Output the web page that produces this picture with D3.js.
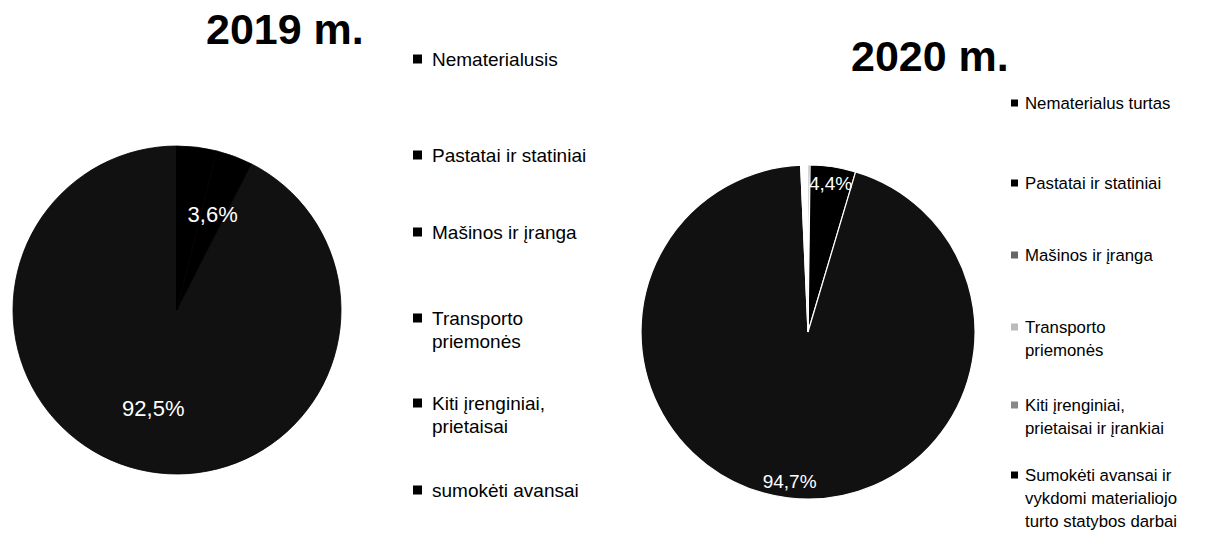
<!DOCTYPE html>
<html><head><meta charset="utf-8">
<script src="https://cdn.jsdelivr.net/npm/d3@7/dist/d3.min.js"></script>
<style>body{margin:0;background:#fff}svg{display:block}</style>
</head><body>
<script>
// ---- data ----
const categories2019 = ["Nematerialusis", "Pastatai ir statiniai", "Mašinos ir įranga", "Transporto priemonės", "Kiti įrenginiai, prietaisai", "sumokėti avansai"];
const legendLines2019 = [["Nematerialusis"], ["Pastatai ir statiniai"], ["Mašinos ir įranga"], ["Transporto", "priemonės"], ["Kiti įrenginiai,", "prietaisai"], ["sumokėti avansai"]];
const values2019 = [3.9, 3.6, 92.5, 0, 0, 0];
const labels2019 = ["", "3,6%", "92,5%", "", "", ""];
const colors2019 = ["#000", "#000", "#111", "#111", "#000", "#000"];

const categories2020 = ["Nematerialus turtas", "Pastatai ir statiniai", "Mašinos ir įranga", "Transporto priemonės", "Kiti įrenginiai, prietaisai ir įrankiai", "Sumokėti avansai ir vykdomi materialiojo turto statybos darbai"];
const legendLines2020 = [["Nematerialus turtas"], ["Pastatai ir statiniai"], ["Mašinos ir įranga"], ["Transporto", "priemonės"], ["Kiti įrenginiai,", "prietaisai ir įrankiai"], ["Sumokėti avansai ir", "vykdomi materialiojo", "turto statybos darbai"]];
const values2020 = [0.2, 4.4, 94.7, 0.6, 0, 0.1];
const labels2020 = ["", "4,4%", "94,7%", "", "", ""];
const colors2020 = ["#000", "#000", "#111", "#fff", "#888", "#000"];
const legendMarker2020 = ["#000", "#000", "#666", "#bbb", "#888", "#000"];

const titles = ["2019 m.", "2020 m."];

// ---- drawing ----
const svg = d3.select("body").append("svg").attr("width", 1229).attr("height", 533);
const font = "'Liberation Sans', Arial, sans-serif";

function drawPie(cfg) {
  const g = svg.append("g").attr("transform", `translate(${cfg.cx},${cfg.cy})`);
  const pie = d3.pie().sort(null).value(d => d)(cfg.values);
  const arc = d3.arc().innerRadius(0).outerRadius(cfg.r);
  g.selectAll("path").data(pie).join("path")
    .attr("d", arc)
    .attr("fill", (d, i) => cfg.colors[i])
    .attr("stroke", cfg.strokeColor).attr("stroke-width", cfg.stroke);
  const labelArc = d3.arc().innerRadius(cfg.r * cfg.lr).outerRadius(cfg.r * cfg.lr);
  g.selectAll("text").data(pie).join("text")
    .attr("transform", d => `translate(${labelArc.centroid(d)})`)
    .attr("text-anchor", "middle").attr("dominant-baseline", "central")
    .attr("font-family", font).attr("font-size", cfg.lfs)
    .attr("fill", "#fff")
    .text((d, i) => cfg.labels[i]);
  svg.append("text").attr("x", cfg.tx).attr("y", cfg.ty)
    .attr("font-family", font).attr("font-weight", "bold").attr("font-size", 43)
    .attr("fill", "#000").text(cfg.title);
  // legend
  const lg = svg.append("g");
  cfg.legend.forEach((lines, i) => {
    const y = cfg.ly[i];
    lg.append("rect").attr("x", cfg.mx).attr("y", y - cfg.ms / 2).attr("width", cfg.ms).attr("height", cfg.ms)
      .attr("fill", cfg.marker[i]);
    lines.forEach((t, j) => {
      lg.append("text").attr("x", cfg.lx).attr("y", y + j * cfg.lh)
        .attr("dominant-baseline", "central")
        .attr("font-family", font).attr("font-size", cfg.fs).attr("fill", "#000").text(t);
    });
  });
}

drawPie({cx: 177, cy: 310, r: 164, values: values2019, colors: colors2019, labels: labels2019,
  lr: 0.62, lfs: 22, stroke: 0.8, strokeColor: "#000", title: titles[0], tx: 206, ty: 44,
  legend: legendLines2019, marker: colors2019.map(() => "#000"), ly: [59, 155, 232, 318, 403, 490],
  mx: 413, ms: 9, lx: 432, fs: 19, lh: 23});

drawPie({cx: 808, cy: 332, r: 167, values: values2020, colors: colors2020, labels: labels2020,
  lr: 0.9, lfs: 19, stroke: 1.2, strokeColor: "#fff", title: titles[1], tx: 851, ty: 71,
  legend: legendLines2020, marker: legendMarker2020, ly: [103, 183, 255, 327, 405, 475],
  mx: 1011, ms: 7, lx: 1025, fs: 16.8, lh: 23});
</script>
</body></html>
